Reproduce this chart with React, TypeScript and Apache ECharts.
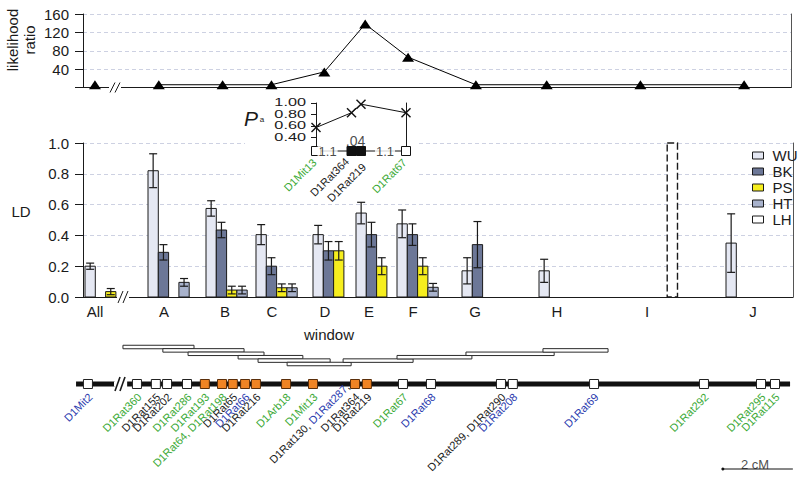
import React, { useEffect, useRef } from 'react';
import * as echarts from 'echarts';

const FONT = '"Liberation Sans", Arial, Helvetica, sans-serif';
const INK = '#1a1a1a';
const GREEN = '#3aa935';
const BLUE = '#2a3aae';

// ---------- top panel: likelihood ratio per window (layout position units) ----------
const lrPos = [12, 76, 140, 189, 242, 283, 326, 394, 465, 559, 663];
const lrValues = [6, 6, 6, 6, 34, 138, 66, 6, 6, 6, 6];

// ---------- LD per window and strain ----------
const windows = ['All', 'A', 'B', 'C', 'D', 'E', 'F', 'G', 'H', 'I', 'J'];
const windowLabelPos = [12, 81, 142, 189, 242, 286, 330, 392, 474, 564, 670];
const groupStart = [2, 65, 123, 173, 230, 273, 314, 379, 456, 543, 643];
const strains = ['WU', 'BK', 'PS', 'HT', 'LH'];
const strainFill = ['#e5e8f3', '#6c7797', '#f6ee1e', '#a8b2cc', '#ffffff'];
const ldWU = [0.2, 0.82, 0.575, 0.405, 0.405, 0.545, 0.475, 0.17, 0.17, null, 0.35];
const errWU = [0.02, 0.11, 0.05, 0.065, 0.06, 0.07, 0.09, 0.085, 0.075, null, 0.19];
const ldBK = [null, 0.29, 0.435, 0.2, 0.3, 0.405, 0.405, 0.34, null, null, null];
const errBK = [null, 0.05, 0.05, 0.055, 0.06, 0.08, 0.07, 0.15, null, null, null];
const ldPS = [0.035, null, 0.045, 0.06, 0.3, 0.2, 0.2, null, null, null, null];
const errPS = [0.02, null, 0.025, 0.025, 0.06, 0.055, 0.055, null, null, null, null];
const ldHT = [null, 0.095, 0.045, 0.06, null, null, 0.063, null, null, null, null];
const errHT = [null, 0.025, 0.025, 0.025, null, null, 0.025, null, null, null, null];
const ldLH = [null, null, null, null, null, null, null, null, null, 1.0, null];
const errLH = [null, null, null, null, null, null, null, null, null, 0, null];
const BAR_W = 10.3;

// ---------- inset: Pa ----------
const paPos = [0, 3.55, 4.5, 9.0];
const paValues = [0.57, 0.83, 0.98, 0.83];
const paMarkers = ['{g|D1Mit13}', '{k|D1Rat364}', '{k|D1Rat219}', '{g|D1Rat67}'];
const paFilled = [false, true, true, false];
const paTicks = [0.4, 0.6, 0.8, 1.0];
const paGapPos = [1.16, 6.9];
const paGapText = ['1.1', '1.1'];
const paMidPos = 3.95;
const paMidText = '.04';

// ---------- genetic map (cM) ----------
const mapPos = [0.37, 1.77, 2.31, 2.63, 3.2, 3.71, 4.2, 4.51, 4.86, 5.17, 6.03, 6.8, 8.0, 8.34, 9.37, 10.17, 12.17, 12.51, 14.83, 17.97, 19.6, 20.0];
const mapInRegion = [false, false, false, false, false, true, true, true, true, true, true, true, true, true, false, false, false, false, false, false, false, false];
const mapLabels = [
  '{b|D1Mit2}', '{g|D1Rat360}', '{k|D1Rat155}', '{k|D1Rat202}', '{g|D1Rat286}', '{g|D1Rat193}',
  '{g|D1Rat64, D1Rat198}', '{k|D1Rat65}', '{b|D1Rat66}', '{k|D1Rat216}', '{g|D1Arb18}', '{g|D1Mit13}',
  '{k|D1Rat130, }{b|D1Rat287}{k|,}\n{k|D1Rat364}', '{k|D1Rat219}', '{g|D1Rat67}', '{b|D1Rat68}',
  '{k|D1Rat289, D1Rat290}', '{b|D1Rat208}', '{b|D1Rat69}', '{g|D1Rat292}', '{g|D1Rat295}', '{g|D1Rat115}',
];
const mapSegments = [[0.03, 1.14], [1.49, 20.43]];
const winStart = [1.37, 2.51, 3.23, 4.66, 5.23, 6.06, 7.66, 9.2, 11.17, 13.37];
const winEnd = [3.4, 4.83, 5.4, 6.51, 7.29, 7.89, 9.66, 11.34, 13.69, 15.23];
const winLevel = [6, 5, 4, 3, 2, 1, 2, 3, 4, 5];
const scaleBar = [18.51, 20.51];
const scaleText = '2 cM';

const rich = {
  g: { color: GREEN, fontSize: 11, fontFamily: FONT, lineHeight: 14 },
  b: { color: BLUE, fontSize: 11, fontFamily: FONT, lineHeight: 14 },
  k: { color: INK, fontSize: 11, fontFamily: FONT, lineHeight: 14 },
};

const gridLine = { show: true, lineStyle: { color: '#cdd1e2', type: [4, 3], width: 1 } };

function rightBorder(gridIndex: number, min: number, max: number, color = '#555') {
  return {
    type: 'value', gridIndex, position: 'right', min, max,
    axisLine: { show: true, lineStyle: { color, width: 1 } },
    axisTick: { show: false }, axisLabel: { show: false }, splitLine: { show: false },
  };
}

function hiddenAxis(gridIndex: number, min: number, max: number, inverse = false) {
  return { type: 'value', gridIndex, min, max, inverse, show: false, splitLine: { show: false } };
}

function barSeries(idx: number, vals: (number | null)[], errs: (number | null)[], dashed = false) {
  const fill = strainFill[idx];
  const data: number[][] = [];
  vals.forEach((v, i) => {
    if (v != null) data.push([groupStart[i] + idx * BAR_W, v, errs[i] ?? 0]);
  });
  return {
    type: 'custom', name: strains[idx], xAxisIndex: 1, yAxisIndex: 2, z: 3,
    itemStyle: { color: fill, borderColor: INK, borderWidth: 1 },
    data,
    renderItem: (_p: any, api: any) => {
      const x0 = api.value(0), v = api.value(1), e = api.value(2);
      const a = api.coord([x0, 0]);
      const b = api.coord([x0 + BAR_W, v]);
      const children: any[] = [{
        type: 'rect',
        shape: { x: a[0], y: b[1], width: b[0] - a[0], height: a[1] - b[1] },
        style: { fill, stroke: INK, lineWidth: dashed ? 1.4 : 1, lineDash: dashed ? [7, 3] : null },
      }];
      if (e > 0) {
        const xc = (a[0] + b[0]) / 2;
        const t = api.coord([x0, v + e])[1];
        const bt = api.coord([x0, v - e])[1];
        const st = { stroke: INK, lineWidth: 1.2 };
        children.push({ type: 'line', shape: { x1: xc, y1: t, x2: xc, y2: bt }, style: st });
        children.push({ type: 'line', shape: { x1: xc - 4, y1: t, x2: xc + 4, y2: t }, style: st });
        children.push({ type: 'line', shape: { x1: xc - 4, y1: bt, x2: xc + 4, y2: bt }, style: st });
      }
      return { type: 'group', children };
    },
  };
}

function breakMark(x: number, y: number, h: number, lw: number) {
  return {
    type: 'group', z: 100,
    children: [
      { type: 'rect', z: 100, shape: { x: x - 1, y: y - 2.5, width: 12, height: 5 }, style: { fill: '#fff' } },
      { type: 'line', z: 101, shape: { x1: x, y1: y + h, x2: x + 5, y2: y - h }, style: { stroke: INK, lineWidth: lw } },
      { type: 'line', z: 101, shape: { x1: x + 5, y1: y + h, x2: x + 10, y2: y - h }, style: { stroke: INK, lineWidth: lw } },
    ],
  };
}

function buildOption() {
  const rotLabel = {
    show: true, position: [7.5, 16], rotate: 45, align: 'right', verticalAlign: 'middle',
    fontSize: 11, fontFamily: FONT, rich,
  };
  const paLabelPos = [[3.5, 14.5], [0.5, 13.5], [8, 19], [3.5, 14.5]];
  return {
    animation: false,
    backgroundColor: '#fff',
    textStyle: { fontFamily: FONT },
    grid: [
      { left: 83, top: 14, width: 708, height: 73.5, outerBoundsMode: 'none' },
      { left: 83, top: 143, width: 710, height: 154, outerBoundsMode: 'none' },
      { left: 316, top: 103, width: 90, height: 48, outerBoundsMode: 'none' },
      { left: 75, top: 343.6, width: 718, height: 23.8, outerBoundsMode: 'none' },
      { left: 75, top: 374, width: 718, height: 100, outerBoundsMode: 'none' },
    ],
    legend: {
      data: strains.map((s) => ({ name: s, icon: 'rect' })),
      orient: 'vertical', left: 747, top: 143, itemWidth: 11, itemHeight: 7, itemGap: 1,
      selectedMode: false,
      itemStyle: { borderColor: INK, borderWidth: 1 },
      textStyle: { fontSize: 15, color: INK, fontFamily: FONT, padding: [0, 0, 0, 4] },
    },
    xAxis: [
      {
        type: 'value', gridIndex: 0, min: 0, max: 710,
        axisLine: { show: true, lineStyle: { color: INK, width: 1 } },
        axisTick: { show: false }, axisLabel: { show: false }, splitLine: { show: false },
      },
      {
        type: 'value', gridIndex: 1, min: 0, max: 710,
        axisLine: { show: true, lineStyle: { color: INK, width: 1 } },
        axisTick: { show: false }, splitLine: { show: false },
        axisLabel: {
          show: true, customValues: windowLabelPos, margin: 7, fontSize: 15, color: INK, fontFamily: FONT,
          formatter: (v: number) => {
            const i = windowLabelPos.findIndex((p) => Math.abs(p - v) < 0.01);
            return i >= 0 ? windows[i] : '';
          },
        },
      },
      hiddenAxis(2, 0, 9.0),
      hiddenAxis(3, 0, 20.514),
      hiddenAxis(4, 0, 20.514),
    ],
    yAxis: [
      {
        type: 'value', gridIndex: 0, min: 0, max: 160, interval: 40,
        axisLine: { show: true, lineStyle: { color: INK, width: 1 } },
        axisTick: { show: true, length: 8, lineStyle: { color: INK } },
        axisLabel: { margin: 14, fontSize: 15, color: INK, fontFamily: FONT, formatter: (v: number) => (v === 0 ? '' : String(v)) },
        splitLine: gridLine,
      },
      rightBorder(0, 0, 160),
      {
        type: 'value', gridIndex: 1, min: 0, max: 1, interval: 0.2,
        axisLine: { show: true, lineStyle: { color: INK, width: 1 } },
        axisTick: { show: true, length: 8, lineStyle: { color: INK } },
        axisLabel: { margin: 14, fontSize: 15, color: INK, fontFamily: FONT, formatter: (v: number) => v.toFixed(1) },
        splitLine: gridLine,
      },
      rightBorder(1, 0, 1),
      {
        type: 'value', gridIndex: 2, min: 0.16, max: 1.0, z: 5,
        axisLine: { show: true, lineStyle: { color: INK, width: 1 } },
        axisTick: { show: true, length: 5, customValues: paTicks, lineStyle: { color: INK } },
        axisLabel: { show: false },
        splitLine: { show: false },
      },
      { ...rightBorder(2, 0.16, 1.0, INK), z: 5 },
      hiddenAxis(3, 0, 7),
      hiddenAxis(4, 0, 10, true),
    ],
    graphic: [
      { type: 'rect', z: 1, shape: { x: 245, y: 136, width: 172, height: 44 }, style: { fill: '#fff' } },
      {
        type: 'text', z: 100, x: 21, y: 40, rotation: Math.PI / 2,
        style: { text: 'likelihood\nratio', fontSize: 15, fontFamily: FONT, fill: INK, textAlign: 'center', textVerticalAlign: 'middle', lineHeight: 17 },
      },
      { type: 'text', z: 100, x: 21, y: 211, style: { text: 'LD', fontSize: 15, fontFamily: FONT, fill: INK, textAlign: 'center', textVerticalAlign: 'middle' } },
      { type: 'text', z: 100, x: 329, y: 334, style: { text: 'window', fontSize: 15, fontFamily: FONT, fill: INK, textAlign: 'center', textVerticalAlign: 'middle' } },
      { type: 'text', z: 100, x: 251, y: 118, style: { text: 'P', fontSize: 21, fontStyle: 'italic', fontFamily: FONT, fill: INK, textAlign: 'center', textVerticalAlign: 'middle' } },
      { type: 'text', z: 100, x: 262, y: 119, style: { text: 'a', fontSize: 8, fontFamily: FONT, fill: INK, textAlign: 'center', textVerticalAlign: 'middle' } },
      breakMark(110, 87.5, 5, 1),
      breakMark(118, 297, 6, 1),
      breakMark(115, 384, 7, 1.6),
    ],
    series: [
      {
        type: 'scatter', xAxisIndex: 0, yAxisIndex: 0, symbol: 'triangle', symbolSize: [12, 9],
        itemStyle: { color: '#000', opacity: 1 }, data: [[lrPos[0], lrValues[0]]], clip: false, z: 4,
      },
      {
        type: 'line', xAxisIndex: 0, yAxisIndex: 0, symbol: 'triangle', symbolSize: [12, 9], showSymbol: true,
        itemStyle: { color: '#000' }, lineStyle: { color: '#000', width: 1 }, clip: false, z: 4,
        data: lrPos.slice(1).map((p, i) => [p, lrValues[i + 1]]),
      },
      barSeries(0, ldWU, errWU),
      barSeries(1, ldBK, errBK),
      barSeries(2, ldPS, errPS),
      barSeries(3, ldHT, errHT),
      barSeries(4, ldLH, errLH, true),
      {
        // Pa tick labels placed on the inset's own value scale (wide, short glyphs as in the source)
        type: 'custom', xAxisIndex: 2, yAxisIndex: 4, z: 7, silent: true,
        data: paTicks.map((v) => [0, v]),
        renderItem: (_p: any, api: any) => {
          const v = api.value(1) as number;
          const c = api.coord([0, v]);
          return {
            type: 'text', x: c[0] - 10, y: c[1], scaleX: 1.55, scaleY: 1,
            style: {
              text: v.toFixed(2), fontSize: 10.5, fontFamily: FONT, fill: INK,
              align: 'right', verticalAlign: 'middle', textAlign: 'right', textVerticalAlign: 'middle',
            },
          };
        },
      },
      {
        type: 'line', xAxisIndex: 2, yAxisIndex: 4, z: 6, clip: false,
        symbol: 'path://M0,1L1,0L5,4L9,0L10,1L6,5L10,9L9,10L5,6L1,10L0,9L4,5Z', symbolSize: 10,
        itemStyle: { color: '#111' }, lineStyle: { color: '#111', width: 1 },
        data: paPos.map((p, i) => [p, paValues[i]]),
      },
      {
        type: 'line', xAxisIndex: 2, yAxisIndex: 4, z: 6, clip: false,
        symbol: 'rect', symbolSize: 9, lineStyle: { color: '#111', width: 1 },
        label: rotLabel,
        data: paPos.map((p, i) => ({
          value: [p, 0.16],
          itemStyle: { color: paFilled[i] ? '#111' : '#fff', borderColor: '#111', borderWidth: 1 },
          label: { formatter: paMarkers[i], position: paLabelPos[i] },
        })),
      },
      {
        type: 'scatter', xAxisIndex: 2, yAxisIndex: 4, z: 7, clip: false, symbol: 'rect', symbolSize: 1,
        itemStyle: { color: 'rgba(0,0,0,0)' },
        label: { show: true, position: 'inside', fontSize: 13, color: INK, fontFamily: FONT },
        data: [
          ...paGapPos.map((p, i) => ({ value: [p, 0.16], label: { formatter: paGapText[i], backgroundColor: '#fff', padding: [0, 1] } })),
          { value: [paMidPos, 0.335], label: { formatter: paMidText, fontSize: 14 } },
        ],
      },
      {
        type: 'custom', xAxisIndex: 3, yAxisIndex: 6, z: 3,
        data: winStart.map((s, i) => [s, winEnd[i], winLevel[i]]),
        renderItem: (_p: any, api: any) => {
          const a = api.coord([api.value(0), api.value(2)]);
          const b = api.coord([api.value(1), api.value(2)]);
          return {
            type: 'rect',
            shape: { x: a[0], y: a[1] - 1.75, width: b[0] - a[0], height: 3.5 },
            style: { fill: '#fff', stroke: '#2a2a2a', lineWidth: 1 },
          };
        },
      },
      ...mapSegments.map((seg) => ({
        type: 'line', xAxisIndex: 4, yAxisIndex: 7, symbol: 'none', z: 3,
        lineStyle: { color: '#111', width: 5 },
        data: [[seg[0], 1], [seg[1], 1]],
      })),
      {
        type: 'scatter', xAxisIndex: 4, yAxisIndex: 7, symbol: 'rect', symbolSize: 9, z: 5, clip: false,
        label: rotLabel,
        data: mapPos.map((p, i) => ({
          value: [p, 1],
          itemStyle: {
            color: mapInRegion[i] ? '#f08424' : '#ffffff',
            borderColor: mapInRegion[i] ? '#5a2e0a' : '#222',
            borderWidth: 1, opacity: 1,
          },
          label: {
            formatter: mapLabels[i],
            position: mapLabels[i].includes('\n') ? [2.5, 11] : [7.5, 16],
          },
        })),
      },
      {
        type: 'line', xAxisIndex: 4, yAxisIndex: 7, z: 3, clip: false,
        lineStyle: { color: '#111', width: 1 }, itemStyle: { color: '#111' },
        data: [
          { value: [scaleBar[0], 9.5], symbol: 'circle', symbolSize: 3 },
          { value: [scaleBar[1], 9.5], symbol: 'none' },
        ],
      },
      {
        type: 'scatter', xAxisIndex: 4, yAxisIndex: 7, z: 3, clip: false, symbol: 'rect', symbolSize: 1,
        itemStyle: { color: 'rgba(0,0,0,0)' },
        label: { show: true, position: 'inside', formatter: scaleText, fontSize: 13, color: INK, fontFamily: FONT },
        data: [[(scaleBar[0] + scaleBar[1]) / 2 - 0.08, 9.0]],
      },
    ],
  };
}

export default function App() {
  const ref = useRef<HTMLDivElement>(null);
  useEffect(() => {
    document.body.style.margin = '0';
    const chart = echarts.init(ref.current!, undefined, { renderer: 'svg' });
    chart.setOption(buildOption() as any);
    return () => chart.dispose();
  }, []);
  return <div ref={ref} style={{ width: 800, height: 481, background: '#fff' }} />;
}
